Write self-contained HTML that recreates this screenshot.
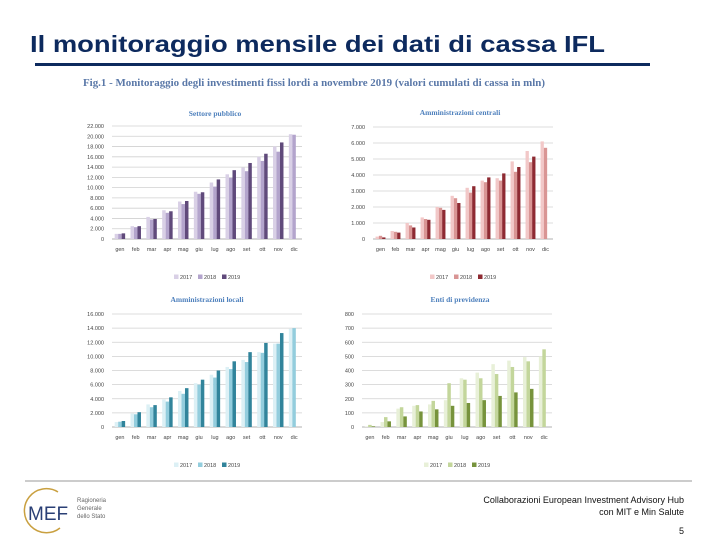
<!DOCTYPE html>
<html><head><meta charset="utf-8"><style>
body{margin:0;background:#fff;}
#root{position:relative;width:720px;height:540px;overflow:hidden;font-family:"Liberation Sans",sans-serif;}
</style></head><body>
<div id="root">
<svg id="svg" width="720" height="540" xmlns="http://www.w3.org/2000/svg">
<text x="30" y="52" font-size="23" font-weight="bold" fill="#0d2a5e" textLength="575" lengthAdjust="spacingAndGlyphs">Il monitoraggio mensile dei dati di cassa IFL</text>
<rect x="35" y="63" width="615" height="3" fill="#0d2a5e"/>
<text x="83" y="86" font-size="10" font-weight="bold" fill="#5a78a8" font-family="Liberation Serif, serif" textLength="462" lengthAdjust="spacingAndGlyphs">Fig.1 - Monitoraggio degli investimenti fissi lordi a novembre 2019 (valori cumulati di cassa in mln)</text>
<line x1="25" y1="481" x2="692" y2="481" stroke="#999" stroke-width="1"/>
<g>
<path d="M58 492 A22 22 0 1 0 60 528" fill="none" stroke="#c9a040" stroke-width="1.5"/>
<text x="28" y="520" font-size="19" fill="#2a3f75">MEF</text>
<text x="77" y="502" font-size="6" fill="#666">Ragioneria</text>
<text x="77" y="510" font-size="6" fill="#666">Generale</text>
<text x="77" y="518" font-size="6" fill="#666">dello Stato</text>
</g>
<text x="684" y="503" font-size="9" fill="#111" text-anchor="end">Collaborazioni European Investment Advisory Hub</text>
<text x="684" y="515" font-size="9" fill="#111" text-anchor="end">con MIT e Min Salute</text>
<text x="684" y="534" font-size="9" fill="#111" text-anchor="end">5</text>
</svg>
</div>
<script>
const months = ["gen","feb","mar","apr","mag","giu","lug","ago","set","ott","nov","dic"];
const years = ["2017","2018","2019"];
const sp2017 = [1000,2500,4300,5600,7300,9200,11000,12600,13900,16000,18000,20400];
const sp2018 = [1000,2300,3800,5100,6800,8800,10200,11900,13200,15200,17000,20300];
const sp2019 = [1100,2500,3900,5400,7400,9100,11600,13400,14800,16600,18800,null];
const spTicks = ["0","2.000","4.000","6.000","8.000","10.000","12.000","14.000","16.000","18.000","20.000","22.000"];
const ac2017 = [150,500,1000,1350,2000,2700,3200,3650,3800,4850,5500,6100];
const ac2018 = [200,450,850,1250,1950,2550,2900,3550,3650,4200,4800,5700];
const ac2019 = [100,400,720,1200,1820,2250,3300,3850,4100,4500,5150,null];
const acTicks = ["0","1.000","2.000","3.000","4.000","5.000","6.000","7.000"];
const al2017 = [700,1900,3200,3900,5100,6200,7400,8500,9500,10600,11800,13900];
const al2018 = [750,1800,2800,3600,4700,6000,7000,8200,9200,10500,11800,14000];
const al2019 = [850,2100,3100,4200,5500,6700,8000,9300,10600,11900,13300,null];
const alTicks = ["0","2.000","4.000","6.000","8.000","10.000","12.000","14.000","16.000"];
const ep2017 = [3,35,130,150,160,190,345,385,445,470,495,500];
const ep2018 = [15,70,140,155,185,310,335,345,375,425,465,550];
const ep2019 = [5,40,75,110,125,150,170,190,220,245,270,null];
const epTicks = ["0","100","200","300","400","500","600","700","800"];

const svg = document.getElementById('svg');
const NS = "http://www.w3.org/2000/svg";
function mk(tag, attrs, parent){const e=document.createElementNS(NS,tag);for(const k in attrs)e.setAttribute(k,attrs[k]);parent.appendChild(e);return e;}

function chart(key,title,series,ticks,max,colors,x0,x1,yTop,yBot,titleX,titleY,legY){
  const g = mk('g',{},svg);
  
  
  const y = v => yBot - v/max*(yBot-yTop);
  const bw = (x1-x0)/months.length;
  const t = mk('text',{x:titleX,y:titleY,'font-size':7.5,'font-weight':'bold',fill:'#4f81bd','text-anchor':'middle','font-family':'Liberation Serif, serif'},g);
  t.textContent = title;
  
  
  ticks.forEach((lab,i)=>{
    const v = max*i/(ticks.length-1);
    const ln = mk('line',{x1:x0,x2:x1,y1:y(v),y2:y(v),stroke:i==0?'#999':'#d0d0d0','stroke-width':0.8},g);
    
    
    const tx = mk('text',{x:x0-8,y:y(v)+2,'font-size':5.5,fill:'#444','text-anchor':'end'},g);
    tx.textContent = lab;
    
    
  });
  months.forEach((m,i)=>{
    const cx = x0 + bw*(i+0.5);
    const w = bw*0.22;
    series.forEach((s,j)=>{
      if(s[i]==null) return;
      const r = mk('rect',{x:cx-1.5*w+j*w,y:y(s[i]),width:w,height:yBot-y(s[i]),fill:colors[j]},g);
      
      
    });
    const tx = mk('text',{x:cx,y:yBot+12,'font-size':5.5,fill:'#444','text-anchor':'middle'},g);
    tx.textContent = m;
    
    
  });
  const lx = (x0+x1)/2 - 33;
  years.forEach((yr,j)=>{
    const r = mk('rect',{x:lx+j*24,y:legY-4.5,width:4.5,height:4.5,fill:colors[j]},g);
    
    
    const tx = mk('text',{x:lx+j*24+6,y:legY,'font-size':5.5,fill:'#444'},g);
    tx.textContent = yr;
    
    
  });
}
chart('settore-pubblico','Settore pubblico',[sp2017,sp2018,sp2019],spTicks,22000,['#d9d0e6','#b3a4cc','#604a7b'],112,302,126,239,215,116,279);
chart('amm-centrali','Amministrazioni centrali',[ac2017,ac2018,ac2019],acTicks,7000,['#f2c8c8','#d99594','#8e2a32'],373,553,127,239,460,115,279);
chart('amm-locali','Amministrazioni locali',[al2017,al2018,al2019],alTicks,16000,['#dcf0f5','#93cddd','#31849b'],112,302,314,427,207,302,467);
chart('enti-previdenza','Enti di previdenza',[ep2017,ep2018,ep2019],epTicks,800,['#e8f0d8','#c3d69b','#77933c'],362,552,314,427,460,302,467);
</script>
</body></html>
